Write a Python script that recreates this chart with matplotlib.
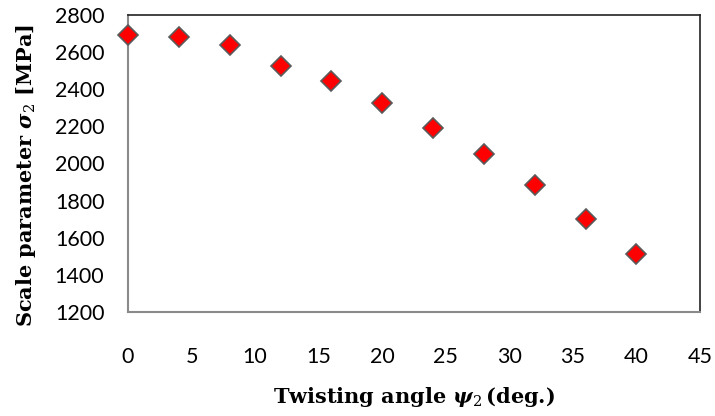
import matplotlib
matplotlib.use("Agg")
import matplotlib.pyplot as plt

# twisting angle (deg.) and scale parameter sigma_2 (MPa)
twist_angle = [0, 4, 8, 12, 16, 20, 24, 28, 32, 36, 40]
scale_param = [2690, 2680, 2640, 2525, 2445, 2325, 2190, 2050, 1885, 1700, 1515]

x_ticks = [0, 5, 10, 15, 20, 25, 30, 35, 40, 45]
y_ticks = [1200, 1400, 1600, 1800, 2000, 2200, 2400, 2600, 2800]

plt.rcParams["mathtext.fontset"] = "dejavuserif"

fig = plt.figure(figsize=(7.15, 4.16), dpi=100)
ax = fig.add_axes([0.179, 0.25, 0.800, 0.714])

ax.plot(twist_angle, scale_param, linestyle="none", marker="D", markersize=10,
        markerfacecolor="#ff0000", markeredgecolor="#5a5a5a", markeredgewidth=1.2,
        clip_on=False, zorder=3)

ax.set_xlim(0, 45)
ax.set_ylim(1200, 2800)
ax.set_xticks(x_ticks)
ax.set_yticks(y_ticks)

tick_font = {"family": "Lato", "size": 15.5}
ax.set_xticklabels([str(v) for v in x_ticks], fontdict=tick_font)
ax.set_yticklabels([str(v) for v in y_ticks], fontdict=tick_font)
ax.tick_params(axis="both", length=0)
ax.tick_params(axis="x", pad=25)
ax.tick_params(axis="y", pad=17)

for side in ("left", "bottom"):
    ax.spines[side].set_color("#8a8a8a")
    ax.spines[side].set_linewidth(1.5)
for side in ("top", "right"):
    ax.spines[side].set_color("#222222")
    ax.spines[side].set_linewidth(1.2)

label_font = {"family": "DejaVu Serif", "weight": "bold", "size": 15}
ax.set_ylabel(r"Scale parameter $\boldsymbol{\sigma}_2$ [MPa]", fontdict=label_font)
ax.set_xlabel(r"Twisting angle $\boldsymbol{\psi}_2\,$(deg.)", fontdict=label_font)
ax.yaxis.set_label_coords(-0.157, 0.46)
ax.xaxis.set_label_coords(0.5, -0.245)

fig.savefig("out.png", dpi=100)
